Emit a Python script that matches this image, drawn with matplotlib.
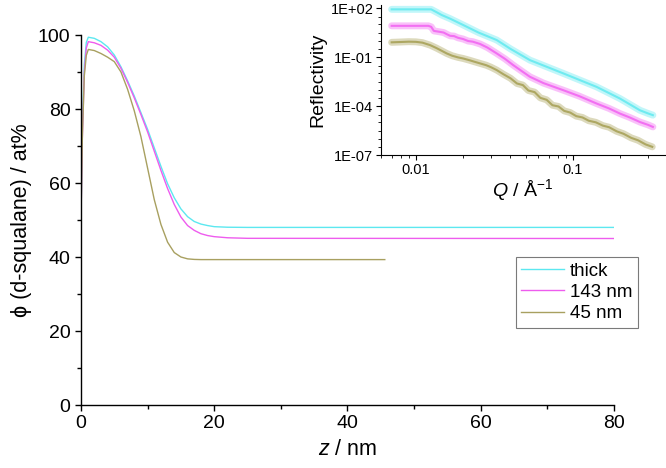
import numpy as np
import matplotlib
matplotlib.use("Agg")
import matplotlib.pyplot as plt
from matplotlib.ticker import FixedLocator, LogLocator, NullFormatter, MultipleLocator

plt.rcParams['font.family'] = ['Liberation Sans', 'DejaVu Sans']
plt.rcParams['mathtext.fontset'] = 'custom'
plt.rcParams['mathtext.rm'] = 'Liberation Sans'
plt.rcParams['mathtext.it'] = 'Liberation Sans:italic'

# ---- volume-fraction profiles (main plot) ----
z_film = [0, 0.2, 0.5, 0.8, 1.1, 2, 3, 4, 5, 6, 7, 8, 9, 10, 11, 12, 13,
          14, 15, 16, 17, 18, 19, 20, 22, 25, 80]
phi_thick = [50, 75, 92, 98, 99.4, 99.1, 98.2, 96.8, 94.6, 91.4, 87.6, 83.5,
             79, 74.5, 69.5, 64.5, 59.8, 56, 53, 50.9, 49.6, 48.9, 48.5, 48.2,
             48.05, 48, 48]
phi_143 = [50, 72, 90, 96.5, 98.2, 97.9, 97.2, 95.9, 94, 91, 87.2, 83, 78.5,
           73.8, 68.6, 63.4, 58.5, 54.2, 50.8, 48.5, 47.2, 46.3, 45.8, 45.5,
           45.2, 45.05, 45]
z_45 = [0, 0.2, 0.5, 0.8, 1.1, 2, 3, 4, 5, 6, 7, 8, 9, 10, 11, 12, 13, 14,
        15, 16, 17, 18, 20, 45.6]
phi_45 = [50, 72, 89, 94.5, 96.1, 95.8, 95, 94, 92.8, 90, 85.3, 79.5, 72.5,
          64, 55.5, 48.8, 44, 41.2, 40, 39.5, 39.35, 39.3, 39.3, 39.3]

# ---- reflectivity (inset), log10 R ----
q_thick = [0.0070, 0.0090, 0.0110, 0.0125, 0.0135, 0.0146, 0.0165, 0.020,
           0.025, 0.0327, 0.040, 0.0532, 0.0867, 0.1416, 0.199, 0.267, 0.30,
           0.323]
logr_thick = [1.92, 1.92, 1.92, 1.92, 1.75, 1.57, 1.35, 0.96, 0.5, 0.04,
              -0.5, -1.19, -2.0, -2.83, -3.54, -4.26, -4.45, -4.56]
q_143 = [0.0070, 0.0090, 0.0110, 0.0120, 0.0125, 0.0130, 0.0140, 0.0150,
         0.0157, 0.0165, 0.0175, 0.0185, 0.020, 0.0215, 0.023, 0.0256, 0.0285,
         0.0327, 0.037, 0.0417, 0.047, 0.0532, 0.065, 0.0867, 0.11, 0.1416,
         0.17, 0.199, 0.23, 0.267, 0.30, 0.323]
logr_143 = [0.91, 0.91, 0.91, 0.91, 0.85, 0.6, 0.55, 0.5, 0.4, 0.3, 0.28,
            0.18, 0.1, -0.02, -0.06, -0.2, -0.42, -0.78, -1.12, -1.5, -1.85,
            -2.21, -2.6, -3.03, -3.4, -3.85, -4.15, -4.46, -4.7, -4.98, -5.15,
            -5.28]
q_45 = [0.0070, 0.0080, 0.0090, 0.0100, 0.0110, 0.0123, 0.0135, 0.0146,
        0.0157, 0.017, 0.0185, 0.020, 0.022, 0.0238, 0.0256, 0.028, 0.030,
        0.0327, 0.036, 0.040, 0.044, 0.048, 0.052, 0.057, 0.062, 0.068, 0.074,
        0.081, 0.088, 0.096, 0.105, 0.115, 0.126, 0.14, 0.155, 0.17, 0.19,
        0.21, 0.235, 0.26, 0.29, 0.32]
logr_45 = [-0.10, -0.08, -0.06, -0.07, -0.12, -0.27, -0.45, -0.62, -0.78,
           -0.92, -1.02, -1.09, -1.2, -1.3, -1.39, -1.5, -1.62, -1.8, -2.05,
           -2.3, -2.62, -2.72, -3.05, -3.15, -3.5, -3.62, -3.95, -4.03, -4.3,
           -4.4, -4.62, -4.7, -4.9, -5.0, -5.2, -5.3, -5.55, -5.7, -5.95,
           -6.1, -6.35, -6.5]

labels = ['thick', '143 nm', '45 nm']
line_colors = ['#5ce8f0', '#ee5cee', '#a8a060']
refl_colors = ['#66eaf0', '#f266f2', '#a8a258']

fig = plt.figure(figsize=(6.66, 4.68), dpi=100)
ax = fig.add_axes([0.1216, 0.1346, 0.8003, 0.7906])

ax.plot(z_film, phi_thick, color=line_colors[0], lw=1, label=labels[0])
ax.plot(z_film, phi_143, color=line_colors[1], lw=1, label=labels[1])
ax.plot(z_45, phi_45, color=line_colors[2], lw=1, label=labels[2])

ax.set_xlim(0, 80)
ax.set_ylim(0, 100)
ax.xaxis.set_major_locator(MultipleLocator(20))
ax.xaxis.set_minor_locator(MultipleLocator(10))
ax.yaxis.set_major_locator(MultipleLocator(20))
ax.yaxis.set_minor_locator(MultipleLocator(10))
for s in ['top', 'right']:
    ax.spines[s].set_visible(False)
for s in ['left', 'bottom']:
    ax.spines[s].set_linewidth(1.0)
ax.tick_params(which='major', direction='out', length=4.5, width=1.0,
               labelsize=14, pad=3)
ax.tick_params(which='minor', direction='out', length=3, width=1.0)
ax.set_xlabel('$z$ / nm', fontsize=15.5, labelpad=5)
ax.set_ylabel('\u03d5 (d-squalane) / at%', fontsize=15.5, labelpad=4)

leg = ax.legend(loc='upper right', bbox_to_anchor=(638 / 666, 1 - 257 / 468),
                bbox_transform=fig.transFigure, fontsize=13.5, frameon=True,
                fancybox=False, borderaxespad=0, handlelength=2.3,
                handletextpad=0.3, labelspacing=0.22, borderpad=0.3)
leg.get_frame().set_edgecolor('0.35')
leg.get_frame().set_linewidth(0.8)

# inset
ins = fig.add_axes([0.572, 0.6688, 0.4264, 0.321])
for q, lr, c in zip([q_thick, q_143, q_45], [logr_thick, logr_143, logr_45],
                    refl_colors):
    r = np.power(10.0, lr)
    ins.plot(q, r, color=c, lw=5, alpha=0.4, solid_capstyle='round')
    ins.plot(q, r, color=c, lw=1.5, alpha=0.9)
ins.set_xscale('log')
ins.set_yscale('log')
ins.set_xlim(10 ** -2.223, 10 ** -0.414)
ins.set_ylim(1e-7, 10 ** 2.2)
ins.yaxis.set_major_locator(FixedLocator([1e2, 1e-1, 1e-4, 1e-7]))
ins.set_yticklabels(['1E+02', '1E-01', '1E-04', '1E-07'])
ins.yaxis.set_minor_locator(LogLocator(base=10, subs=(1.0, 3.0), numticks=30))
ins.yaxis.set_minor_formatter(NullFormatter())
ins.xaxis.set_major_locator(FixedLocator([0.01, 0.1]))
ins.set_xticklabels(['0.01', '0.1'])
ins.xaxis.set_minor_locator(LogLocator(base=10, subs=np.arange(2, 10), numticks=30))
ins.xaxis.set_minor_formatter(NullFormatter())
for s in ['top', 'right']:
    ins.spines[s].set_visible(False)
ins.tick_params(which='major', direction='out', length=3.5, width=0.8,
                labelsize=10.5, pad=2)
ins.tick_params(which='minor', direction='out', length=2, width=0.6)
ins.patch.set_alpha(0)
ins.set_ylabel('Reflectivity', fontsize=14, labelpad=3)
ins.set_xlabel('$Q$ / \u00c5$^{-1}$', fontsize=14, labelpad=0)

fig.savefig('out.png', dpi=100)
